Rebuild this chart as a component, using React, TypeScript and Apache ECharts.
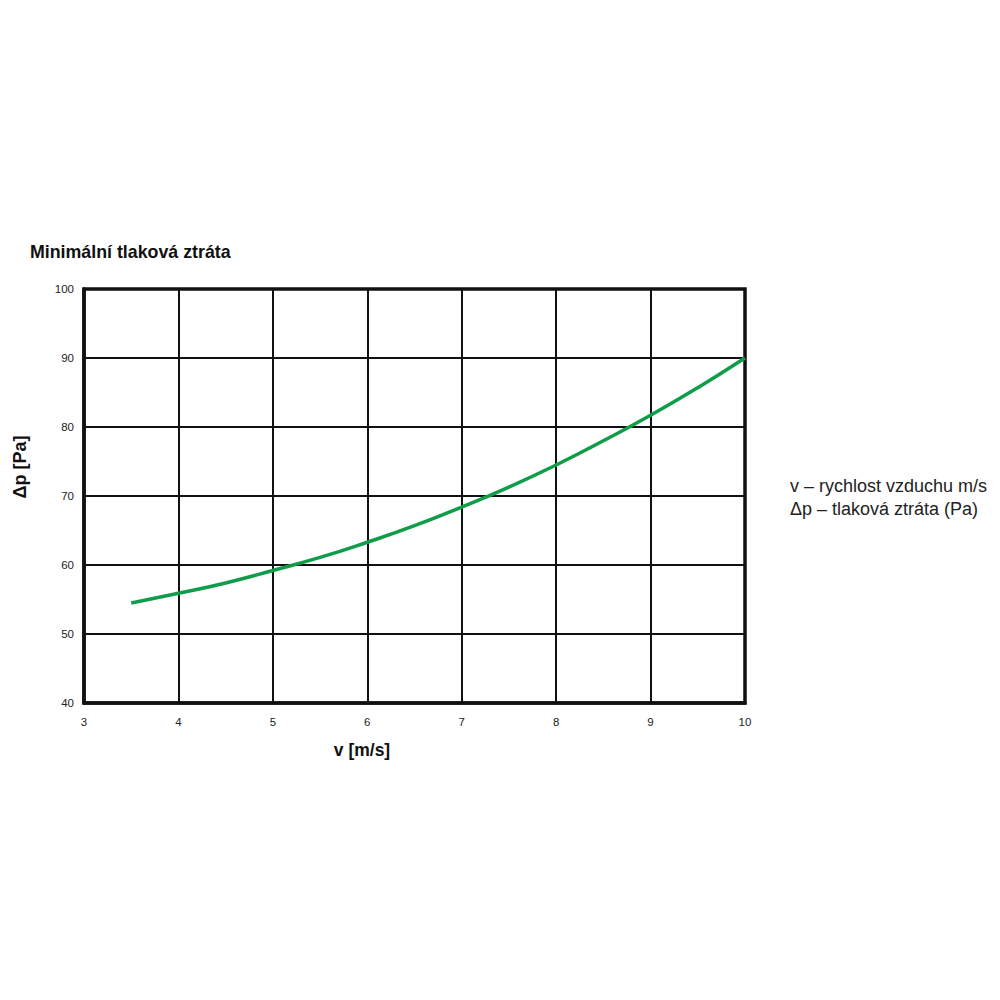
import React, { useEffect, useRef } from "react";
import * as echarts from "echarts";

const velocity = [3.5, 4, 4.5, 5, 5.5, 6, 6.5, 7, 7.5, 8, 8.5, 9, 9.5, 10];
const pressure = [54.5, 55.9, 57.4, 59.2, 61.1, 63.3, 65.7, 68.4, 71.3, 74.5, 78.0, 81.7, 85.7, 90.0];
const titleText = "Minimální tlaková ztráta";
const xName = "v [m/s]";
const yName = "Δp [Pa]";
const notes = ["v – rychlost vzduchu m/s", "Δp – tlaková ztráta (Pa)"];

export default function App() {
  const ref = useRef<HTMLDivElement>(null);
  useEffect(() => {
    if (!ref.current) return;
    const chart = echarts.init(ref.current, undefined, { renderer: "svg" });
    const font = "Liberation Sans, Arial, sans-serif";
    chart.setOption({
      animation: false,
      backgroundColor: "#ffffff",
      textStyle: { fontFamily: font },
      title: {
        text: titleText,
        left: 25,
        top: 238,
        textStyle: { fontSize: 17.8, fontWeight: "bold", color: "#111", fontFamily: font },
      },
      grid: {
        left: 84,
        right: 255,
        top: 289,
        bottom: 297,
        show: true,
        borderColor: "#111",
        borderWidth: 3.5,
        backgroundColor: "transparent",
      },
      xAxis: {
        type: "value",
        min: 3,
        max: 10,
        interval: 1,
        axisLine: { show: true, lineStyle: { color: "#111", width: 3.5 } },
        axisTick: { show: false },
        axisLabel: { fontSize: 11.5, color: "#222", margin: 13, fontFamily: font },
        splitLine: { show: true, lineStyle: { color: "#111", width: 2 } },
      },
      yAxis: {
        type: "value",
        min: 40,
        max: 100,
        interval: 10,
        axisLine: { show: true, lineStyle: { color: "#111", width: 3.5 } },
        axisTick: { show: false },
        axisLabel: { fontSize: 11.5, color: "#222", margin: 10, fontFamily: font },
        splitLine: { show: true, lineStyle: { color: "#111", width: 2 } },
      },
      graphic: [
        {
          type: "text",
          x: 362,
          y: 750,
          style: {
            text: xName,
            fontSize: 17.5,
            fontWeight: "bold",
            fill: "#111",
            fontFamily: font,
            align: "center",
            verticalAlign: "middle",
          },
        },
        {
          type: "text",
          x: 20,
          y: 467,
          rotation: Math.PI / 2,
          style: {
            text: yName,
            fontSize: 18,
            fontWeight: "bold",
            fill: "#111",
            fontFamily: font,
            align: "center",
            verticalAlign: "middle",
          },
        },
        {
          type: "text",
          x: 790,
          y: 474,
          style: {
            text: notes.join("\n"),
            fontSize: 18,
            lineHeight: 23,
            fill: "#222",
            fontFamily: font,
          },
        },
      ],
      series: [
        {
          type: "line",
          data: velocity.map((v, i) => [v, pressure[i]]),
          smooth: true,
          showSymbol: false,
          lineStyle: { color: "#0f9d4a", width: 3.5 },
          z: 5,
        },
      ],
    });
    return () => chart.dispose();
  }, []);
  return <div ref={ref} style={{ width: 1000, height: 1000, margin: -8 }} />;
}
